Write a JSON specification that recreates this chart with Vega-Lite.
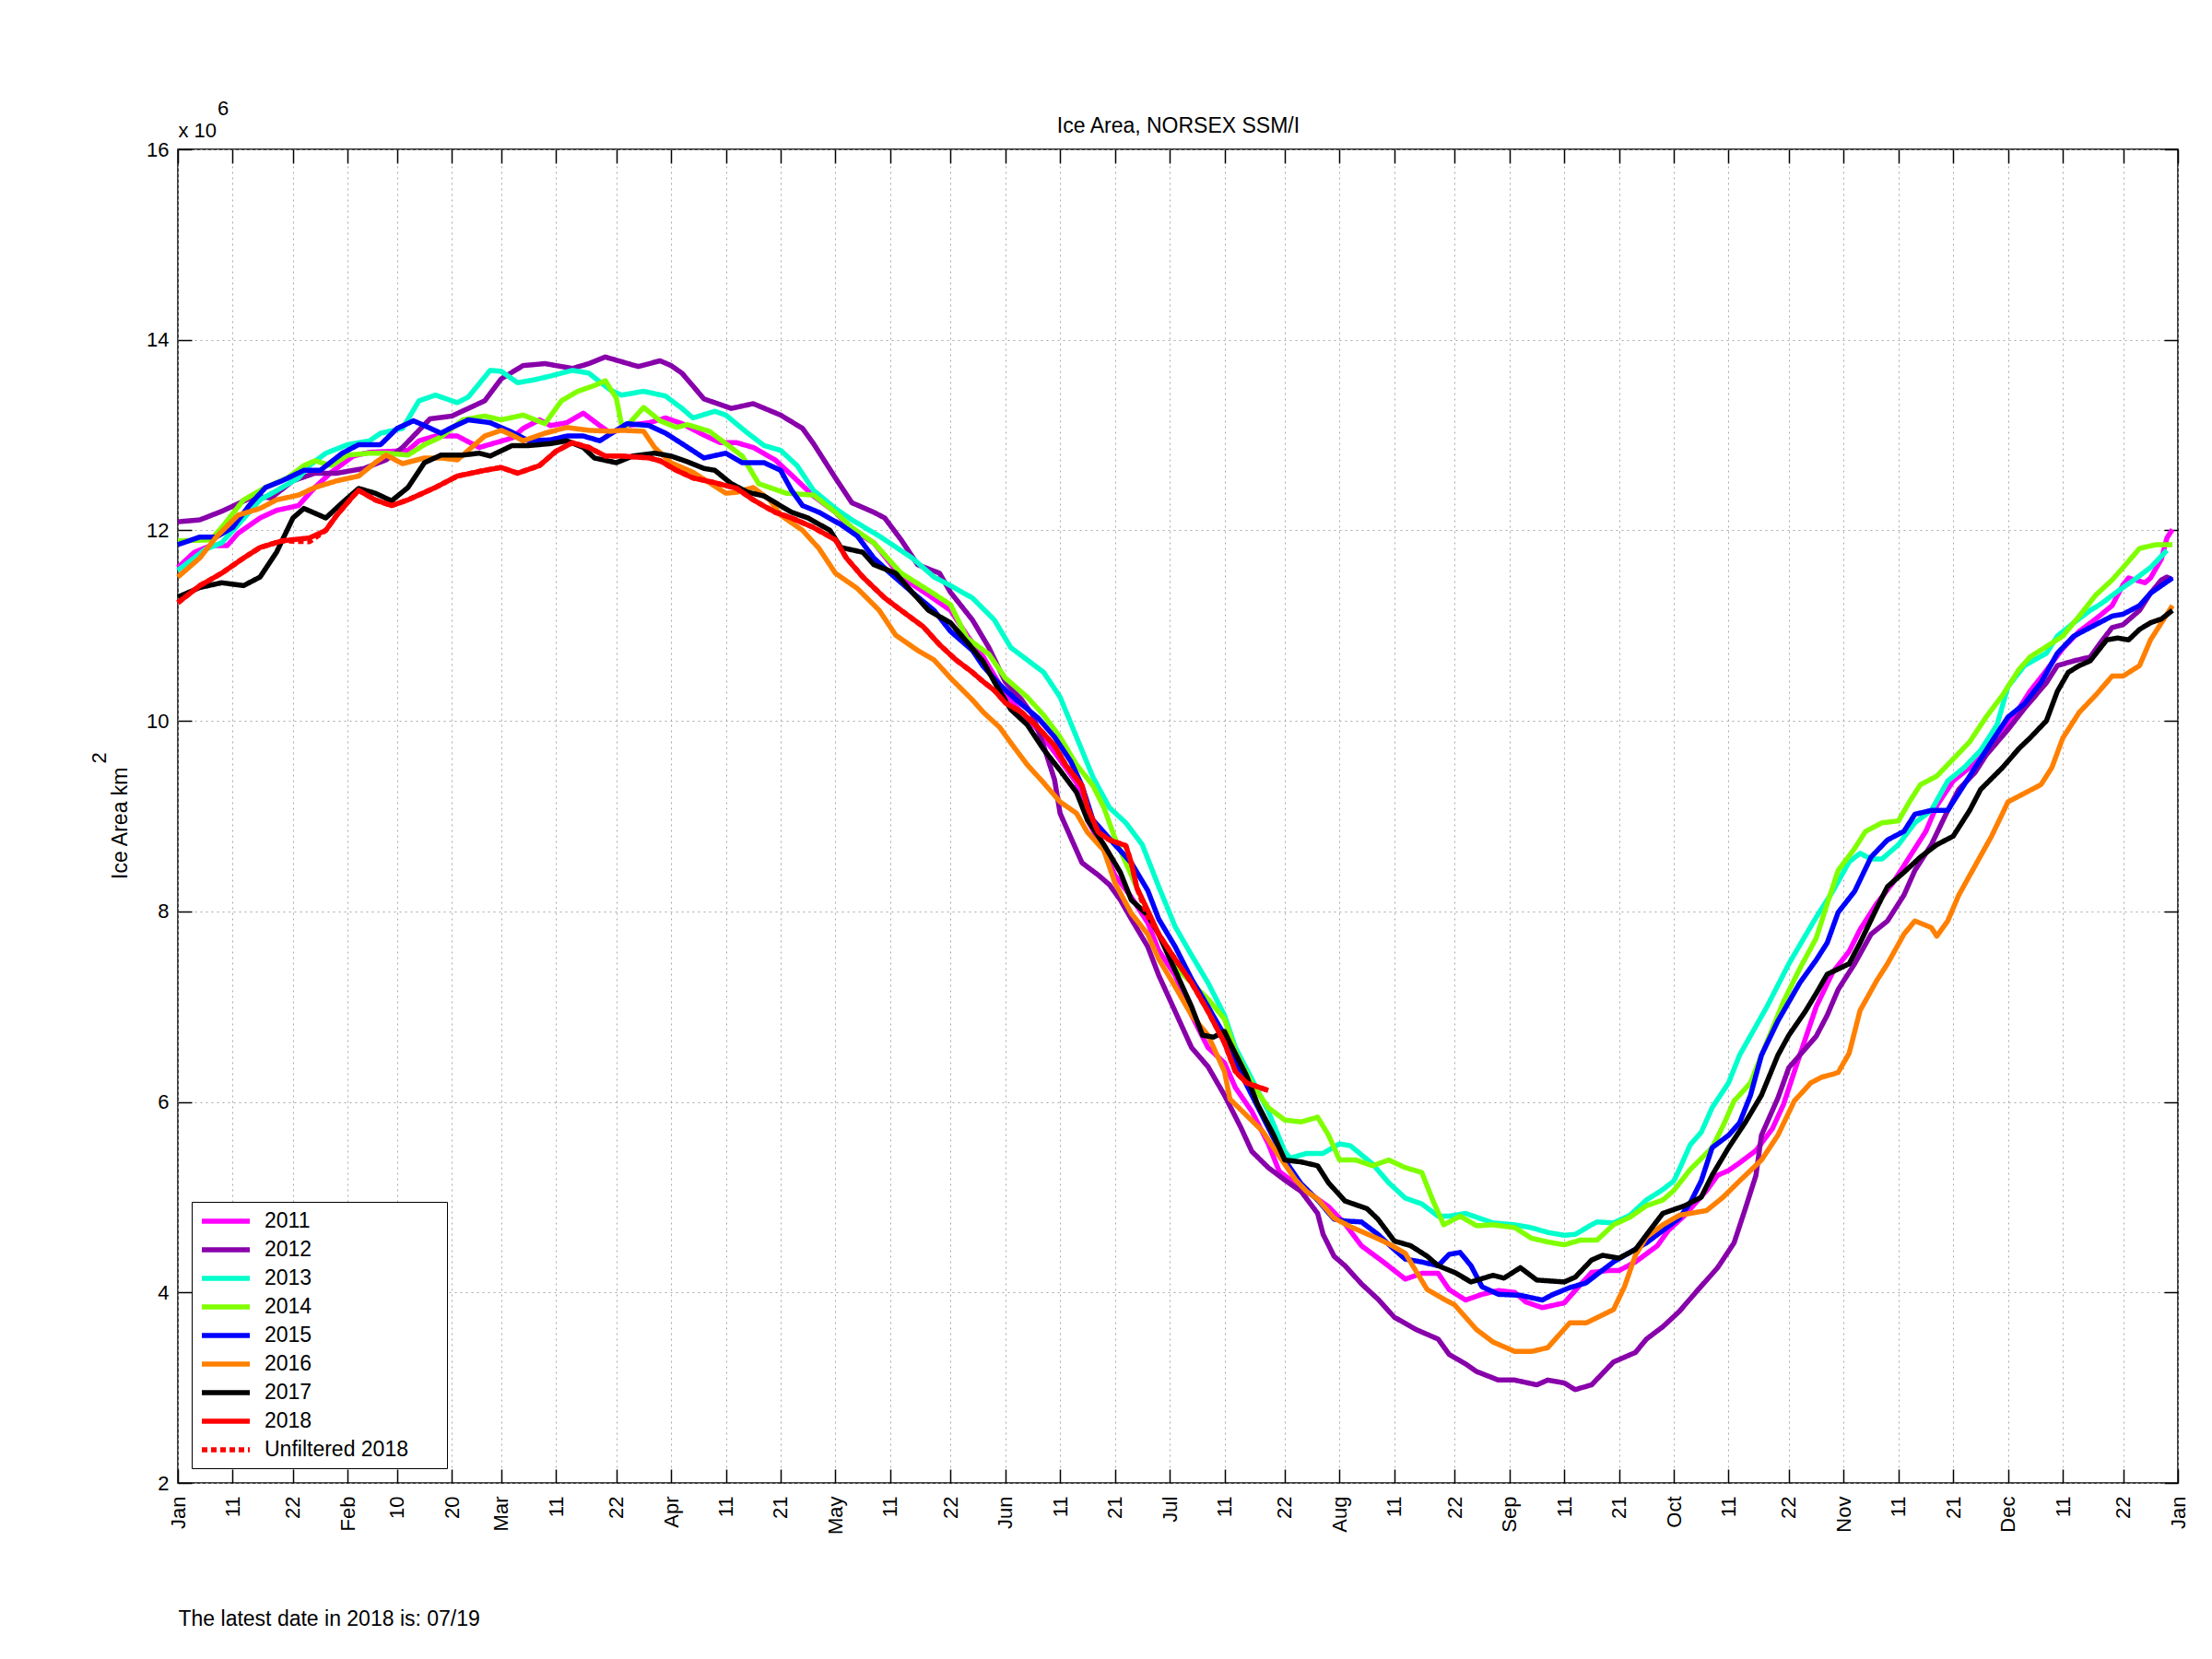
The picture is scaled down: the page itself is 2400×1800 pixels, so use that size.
{
  "$schema": "https://vega.github.io/schema/vega-lite/v6.json",
  "width": 2170,
  "height": 1447,
  "autosize": {"type": "none"},
  "padding": {"left": 193, "top": 162, "right": 37, "bottom": 191},
  "background": "white",
  "config": {
    "font": "Liberation Sans",
    "view": {"stroke": "black", "strokeWidth": 1.5},
    "axis": {
      "labelFont": "Liberation Sans", "labelFontSize": 22, "labelColor": "black",
      "titleFont": "Liberation Sans", "titleFontSize": 23, "titleFontWeight": "normal", "titleColor": "black",
      "tickColor": "black", "tickWidth": 1.5, "tickSize": -15, "domain": false,
      "gridColor": "#a8a8a8", "gridDash": [2, 4], "gridWidth": 1
    },
    "legend": {
      "orient": "none", "legendX": 15, "legendY": 1142,
      "labelFont": "Liberation Sans", "labelFontSize": 23, "labelColor": "black", "labelLimit": 400,
      "fillColor": "white", "strokeColor": "black", "padding": 8,
      "symbolType": "M-1,0H4.2", "symbolSize": 400, "labelOffset": 45, "rowPadding": 6
    }
  },
  "data": {"values": [
    {"s":"2011","d":0,"v":11.61},{"s":"2011","d":3,"v":11.77},{"s":"2011","d":6,"v":11.84},{"s":"2011","d":9,"v":11.84},{"s":"2011","d":11,"v":11.97},{"s":"2011","d":15,"v":12.13},{"s":"2011","d":18,"v":12.21},{"s":"2011","d":22,"v":12.26},{"s":"2011","d":25,"v":12.45},{"s":"2011","d":28,"v":12.61},{"s":"2011","d":32,"v":12.78},{"s":"2011","d":35,"v":12.82},{"s":"2011","d":39,"v":12.83},{"s":"2011","d":42,"v":12.84},{"s":"2011","d":44,"v":12.94},{"s":"2011","d":47,"v":12.99},{"s":"2011","d":51,"v":12.99},{"s":"2011","d":55,"v":12.87},{"s":"2011","d":58,"v":12.92},{"s":"2011","d":61,"v":12.97},{"s":"2011","d":63,"v":13.07},{"s":"2011","d":66,"v":13.16},{"s":"2011","d":68,"v":13.1},{"s":"2011","d":71,"v":13.13},{"s":"2011","d":74,"v":13.23},{"s":"2011","d":77,"v":13.1},{"s":"2011","d":79,"v":13.02},{"s":"2011","d":82,"v":13.1},{"s":"2011","d":86,"v":13.13},{"s":"2011","d":89,"v":13.18},{"s":"2011","d":92,"v":13.12},{"s":"2011","d":96,"v":13.0},{"s":"2011","d":99,"v":12.92},{"s":"2011","d":102,"v":12.92},{"s":"2011","d":105,"v":12.87},{"s":"2011","d":109,"v":12.74},{"s":"2011","d":112,"v":12.58},{"s":"2011","d":116,"v":12.36},{"s":"2011","d":120,"v":12.19},{"s":"2011","d":123,"v":12.0},{"s":"2011","d":127,"v":11.87},{"s":"2011","d":132,"v":11.51},{"s":"2011","d":137,"v":11.32},{"s":"2011","d":141,"v":11.16},{"s":"2011","d":144,"v":10.9},{"s":"2011","d":147,"v":10.67},{"s":"2011","d":150,"v":10.38},{"s":"2011","d":153,"v":10.15},{"s":"2011","d":157,"v":9.9},{"s":"2011","d":160,"v":9.67},{"s":"2011","d":164,"v":9.35},{"s":"2011","d":166,"v":8.96},{"s":"2011","d":169,"v":8.64},{"s":"2011","d":171,"v":8.38},{"s":"2011","d":174,"v":8.15},{"s":"2011","d":177,"v":7.88},{"s":"2011","d":179,"v":7.59},{"s":"2011","d":182,"v":7.33},{"s":"2011","d":185,"v":6.91},{"s":"2011","d":188,"v":6.57},{"s":"2011","d":191,"v":6.41},{"s":"2011","d":193,"v":6.15},{"s":"2011","d":196,"v":5.9},{"s":"2011","d":199,"v":5.56},{"s":"2011","d":201,"v":5.27},{"s":"2011","d":204,"v":5.14},{"s":"2011","d":206,"v":5.06},{"s":"2011","d":210,"v":4.9},{"s":"2011","d":213,"v":4.72},{"s":"2011","d":216,"v":4.49},{"s":"2011","d":220,"v":4.32},{"s":"2011","d":224,"v":4.14},{"s":"2011","d":227,"v":4.2},{"s":"2011","d":230,"v":4.2},{"s":"2011","d":232,"v":4.03},{"s":"2011","d":235,"v":3.92},{"s":"2011","d":238,"v":3.98},{"s":"2011","d":241,"v":4.02},{"s":"2011","d":244,"v":4.0},{"s":"2011","d":246,"v":3.9},{"s":"2011","d":249,"v":3.84},{"s":"2011","d":253,"v":3.89},{"s":"2011","d":255,"v":4.02},{"s":"2011","d":258,"v":4.21},{"s":"2011","d":261,"v":4.23},{"s":"2011","d":263,"v":4.23},{"s":"2011","d":266,"v":4.32},{"s":"2011","d":270,"v":4.49},{"s":"2011","d":272,"v":4.65},{"s":"2011","d":275,"v":4.81},{"s":"2011","d":279,"v":5.07},{"s":"2011","d":281,"v":5.23},{"s":"2011","d":283,"v":5.28},{"s":"2011","d":285,"v":5.36},{"s":"2011","d":288,"v":5.49},{"s":"2011","d":291,"v":5.72},{"s":"2011","d":293,"v":5.97},{"s":"2011","d":296,"v":6.49},{"s":"2011","d":299,"v":7.0},{"s":"2011","d":302,"v":7.36},{"s":"2011","d":305,"v":7.58},{"s":"2011","d":307,"v":7.81},{"s":"2011","d":310,"v":8.08},{"s":"2011","d":313,"v":8.3},{"s":"2011","d":316,"v":8.57},{"s":"2011","d":319,"v":8.84},{"s":"2011","d":321,"v":9.11},{"s":"2011","d":324,"v":9.37},{"s":"2011","d":327,"v":9.51},{"s":"2011","d":330,"v":9.69},{"s":"2011","d":333,"v":9.91},{"s":"2011","d":336,"v":10.13},{"s":"2011","d":338,"v":10.31},{"s":"2011","d":341,"v":10.53},{"s":"2011","d":344,"v":10.76},{"s":"2011","d":347,"v":10.94},{"s":"2011","d":350,"v":11.07},{"s":"2011","d":353,"v":11.21},{"s":"2011","d":355,"v":11.43},{"s":"2011","d":356,"v":11.5},{"s":"2011","d":359,"v":11.45},{"s":"2011","d":360,"v":11.5},{"s":"2011","d":362,"v":11.7},{"s":"2011","d":363,"v":11.92},{"s":"2011","d":364,"v":12.01},
    {"s":"2012","d":0,"v":12.09},{"s":"2012","d":4,"v":12.11},{"s":"2012","d":8,"v":12.2},{"s":"2012","d":14,"v":12.36},{"s":"2012","d":17,"v":12.34},{"s":"2012","d":21,"v":12.52},{"s":"2012","d":25,"v":12.6},{"s":"2012","d":29,"v":12.6},{"s":"2012","d":34,"v":12.65},{"s":"2012","d":38,"v":12.74},{"s":"2012","d":41,"v":12.87},{"s":"2012","d":46,"v":13.17},{"s":"2012","d":50,"v":13.2},{"s":"2012","d":56,"v":13.36},{"s":"2012","d":59,"v":13.59},{"s":"2012","d":63,"v":13.73},{"s":"2012","d":67,"v":13.75},{"s":"2012","d":72,"v":13.7},{"s":"2012","d":75,"v":13.75},{"s":"2012","d":78,"v":13.82},{"s":"2012","d":84,"v":13.72},{"s":"2012","d":88,"v":13.78},{"s":"2012","d":90,"v":13.73},{"s":"2012","d":92,"v":13.65},{"s":"2012","d":96,"v":13.38},{"s":"2012","d":101,"v":13.28},{"s":"2012","d":105,"v":13.33},{"s":"2012","d":110,"v":13.21},{"s":"2012","d":114,"v":13.07},{"s":"2012","d":116,"v":12.91},{"s":"2012","d":120,"v":12.55},{"s":"2012","d":123,"v":12.29},{"s":"2012","d":127,"v":12.19},{"s":"2012","d":129,"v":12.13},{"s":"2012","d":132,"v":11.9},{"s":"2012","d":135,"v":11.64},{"s":"2012","d":139,"v":11.55},{"s":"2012","d":141,"v":11.35},{"s":"2012","d":145,"v":11.06},{"s":"2012","d":148,"v":10.77},{"s":"2012","d":151,"v":10.41},{"s":"2012","d":154,"v":10.22},{"s":"2012","d":156,"v":10.06},{"s":"2012","d":158,"v":9.74},{"s":"2012","d":160,"v":9.38},{"s":"2012","d":161,"v":9.03},{"s":"2012","d":163,"v":8.77},{"s":"2012","d":165,"v":8.51},{"s":"2012","d":168,"v":8.38},{"s":"2012","d":170,"v":8.28},{"s":"2012","d":172,"v":8.12},{"s":"2012","d":174,"v":7.92},{"s":"2012","d":177,"v":7.63},{"s":"2012","d":179,"v":7.33},{"s":"2012","d":182,"v":6.95},{"s":"2012","d":185,"v":6.57},{"s":"2012","d":188,"v":6.37},{"s":"2012","d":191,"v":6.07},{"s":"2012","d":194,"v":5.73},{"s":"2012","d":196,"v":5.48},{"s":"2012","d":199,"v":5.31},{"s":"2012","d":202,"v":5.18},{"s":"2012","d":205,"v":5.06},{"s":"2012","d":208,"v":4.83},{"s":"2012","d":209,"v":4.61},{"s":"2012","d":211,"v":4.38},{"s":"2012","d":213,"v":4.28},{"s":"2012","d":216,"v":4.09},{"s":"2012","d":219,"v":3.93},{"s":"2012","d":222,"v":3.74},{"s":"2012","d":226,"v":3.61},{"s":"2012","d":230,"v":3.51},{"s":"2012","d":232,"v":3.35},{"s":"2012","d":235,"v":3.25},{"s":"2012","d":237,"v":3.17},{"s":"2012","d":241,"v":3.08},{"s":"2012","d":244,"v":3.08},{"s":"2012","d":248,"v":3.03},{"s":"2012","d":250,"v":3.08},{"s":"2012","d":253,"v":3.05},{"s":"2012","d":255,"v":2.98},{"s":"2012","d":258,"v":3.03},{"s":"2012","d":262,"v":3.27},{"s":"2012","d":266,"v":3.37},{"s":"2012","d":268,"v":3.51},{"s":"2012","d":271,"v":3.64},{"s":"2012","d":274,"v":3.8},{"s":"2012","d":277,"v":4.0},{"s":"2012","d":281,"v":4.26},{"s":"2012","d":284,"v":4.52},{"s":"2012","d":286,"v":4.87},{"s":"2012","d":288,"v":5.23},{"s":"2012","d":289,"v":5.65},{"s":"2012","d":292,"v":6.04},{"s":"2012","d":294,"v":6.36},{"s":"2012","d":299,"v":6.69},{"s":"2012","d":301,"v":6.91},{"s":"2012","d":303,"v":7.18},{"s":"2012","d":306,"v":7.45},{"s":"2012","d":309,"v":7.76},{"s":"2012","d":312,"v":7.9},{"s":"2012","d":315,"v":8.17},{"s":"2012","d":317,"v":8.43},{"s":"2012","d":320,"v":8.7},{"s":"2012","d":323,"v":9.06},{"s":"2012","d":325,"v":9.28},{"s":"2012","d":328,"v":9.46},{"s":"2012","d":330,"v":9.64},{"s":"2012","d":334,"v":9.91},{"s":"2012","d":337,"v":10.13},{"s":"2012","d":341,"v":10.4},{"s":"2012","d":343,"v":10.58},{"s":"2012","d":346,"v":10.63},{"s":"2012","d":349,"v":10.67},{"s":"2012","d":351,"v":10.83},{"s":"2012","d":353,"v":10.98},{"s":"2012","d":355,"v":11.01},{"s":"2012","d":358,"v":11.16},{"s":"2012","d":360,"v":11.34},{"s":"2012","d":362,"v":11.48},{"s":"2012","d":363,"v":11.51},{"s":"2012","d":364,"v":11.48},
    {"s":"2013","d":0,"v":11.58},{"s":"2013","d":5,"v":11.8},{"s":"2013","d":8,"v":11.87},{"s":"2013","d":11,"v":12.06},{"s":"2013","d":15,"v":12.32},{"s":"2013","d":19,"v":12.45},{"s":"2013","d":22,"v":12.55},{"s":"2013","d":24,"v":12.68},{"s":"2013","d":27,"v":12.81},{"s":"2013","d":31,"v":12.9},{"s":"2013","d":35,"v":12.94},{"s":"2013","d":37,"v":13.02},{"s":"2013","d":41,"v":13.07},{"s":"2013","d":44,"v":13.36},{"s":"2013","d":47,"v":13.42},{"s":"2013","d":51,"v":13.34},{"s":"2013","d":53,"v":13.4},{"s":"2013","d":57,"v":13.68},{"s":"2013","d":59,"v":13.67},{"s":"2013","d":62,"v":13.55},{"s":"2013","d":65,"v":13.58},{"s":"2013","d":68,"v":13.62},{"s":"2013","d":72,"v":13.68},{"s":"2013","d":75,"v":13.65},{"s":"2013","d":79,"v":13.47},{"s":"2013","d":81,"v":13.42},{"s":"2013","d":85,"v":13.46},{"s":"2013","d":89,"v":13.41},{"s":"2013","d":92,"v":13.28},{"s":"2013","d":94,"v":13.18},{"s":"2013","d":98,"v":13.25},{"s":"2013","d":100,"v":13.21},{"s":"2013","d":104,"v":13.02},{"s":"2013","d":107,"v":12.89},{"s":"2013","d":110,"v":12.84},{"s":"2013","d":113,"v":12.68},{"s":"2013","d":116,"v":12.42},{"s":"2013","d":120,"v":12.23},{"s":"2013","d":123,"v":12.11},{"s":"2013","d":128,"v":11.94},{"s":"2013","d":134,"v":11.71},{"s":"2013","d":138,"v":11.51},{"s":"2013","d":141,"v":11.42},{"s":"2013","d":145,"v":11.29},{"s":"2013","d":149,"v":11.06},{"s":"2013","d":152,"v":10.77},{"s":"2013","d":158,"v":10.51},{"s":"2013","d":161,"v":10.25},{"s":"2013","d":164,"v":9.83},{"s":"2013","d":167,"v":9.41},{"s":"2013","d":170,"v":9.09},{"s":"2013","d":173,"v":8.93},{"s":"2013","d":176,"v":8.7},{"s":"2013","d":179,"v":8.26},{"s":"2013","d":182,"v":7.84},{"s":"2013","d":185,"v":7.54},{"s":"2013","d":188,"v":7.25},{"s":"2013","d":191,"v":6.91},{"s":"2013","d":193,"v":6.57},{"s":"2013","d":196,"v":6.24},{"s":"2013","d":199,"v":5.9},{"s":"2013","d":202,"v":5.48},{"s":"2013","d":203,"v":5.41},{"s":"2013","d":206,"v":5.46},{"s":"2013","d":209,"v":5.46},{"s":"2013","d":212,"v":5.56},{"s":"2013","d":214,"v":5.54},{"s":"2013","d":218,"v":5.35},{"s":"2013","d":221,"v":5.15},{"s":"2013","d":224,"v":4.99},{"s":"2013","d":227,"v":4.93},{"s":"2013","d":230,"v":4.8},{"s":"2013","d":232,"v":4.8},{"s":"2013","d":235,"v":4.83},{"s":"2013","d":237,"v":4.79},{"s":"2013","d":240,"v":4.73},{"s":"2013","d":244,"v":4.71},{"s":"2013","d":247,"v":4.68},{"s":"2013","d":250,"v":4.63},{"s":"2013","d":253,"v":4.6},{"s":"2013","d":255,"v":4.61},{"s":"2013","d":258,"v":4.71},{"s":"2013","d":259,"v":4.74},{"s":"2013","d":262,"v":4.73},{"s":"2013","d":265,"v":4.81},{"s":"2013","d":268,"v":4.97},{"s":"2013","d":271,"v":5.08},{"s":"2013","d":273,"v":5.17},{"s":"2013","d":274,"v":5.29},{"s":"2013","d":276,"v":5.55},{"s":"2013","d":278,"v":5.68},{"s":"2013","d":280,"v":5.94},{"s":"2013","d":283,"v":6.2},{"s":"2013","d":285,"v":6.49},{"s":"2013","d":290,"v":7.0},{"s":"2013","d":294,"v":7.45},{"s":"2013","d":299,"v":7.94},{"s":"2013","d":302,"v":8.21},{"s":"2013","d":305,"v":8.52},{"s":"2013","d":307,"v":8.61},{"s":"2013","d":309,"v":8.55},{"s":"2013","d":311,"v":8.55},{"s":"2013","d":314,"v":8.7},{"s":"2013","d":317,"v":8.93},{"s":"2013","d":320,"v":9.06},{"s":"2013","d":323,"v":9.37},{"s":"2013","d":326,"v":9.51},{"s":"2013","d":329,"v":9.69},{"s":"2013","d":332,"v":9.96},{"s":"2013","d":334,"v":10.36},{"s":"2013","d":337,"v":10.58},{"s":"2013","d":341,"v":10.71},{"s":"2013","d":343,"v":10.89},{"s":"2013","d":346,"v":11.03},{"s":"2013","d":349,"v":11.16},{"s":"2013","d":351,"v":11.23},{"s":"2013","d":354,"v":11.36},{"s":"2013","d":357,"v":11.48},{"s":"2013","d":360,"v":11.61},{"s":"2013","d":363,"v":11.79},
    {"s":"2014","d":0,"v":11.89},{"s":"2014","d":6,"v":11.9},{"s":"2014","d":8,"v":12.03},{"s":"2014","d":12,"v":12.32},{"s":"2014","d":16,"v":12.45},{"s":"2014","d":20,"v":12.55},{"s":"2014","d":23,"v":12.68},{"s":"2014","d":25,"v":12.73},{"s":"2014","d":28,"v":12.68},{"s":"2014","d":31,"v":12.79},{"s":"2014","d":35,"v":12.81},{"s":"2014","d":38,"v":12.81},{"s":"2014","d":42,"v":12.79},{"s":"2014","d":45,"v":12.9},{"s":"2014","d":48,"v":12.98},{"s":"2014","d":52,"v":13.16},{"s":"2014","d":56,"v":13.2},{"s":"2014","d":59,"v":13.16},{"s":"2014","d":63,"v":13.21},{"s":"2014","d":67,"v":13.12},{"s":"2014","d":70,"v":13.36},{"s":"2014","d":73,"v":13.46},{"s":"2014","d":76,"v":13.52},{"s":"2014","d":78,"v":13.57},{"s":"2014","d":80,"v":13.39},{"s":"2014","d":81,"v":13.1},{"s":"2014","d":82,"v":13.1},{"s":"2014","d":85,"v":13.29},{"s":"2014","d":88,"v":13.15},{"s":"2014","d":91,"v":13.08},{"s":"2014","d":93,"v":13.11},{"s":"2014","d":97,"v":13.04},{"s":"2014","d":100,"v":12.91},{"s":"2014","d":103,"v":12.78},{"s":"2014","d":106,"v":12.49},{"s":"2014","d":111,"v":12.39},{"s":"2014","d":116,"v":12.37},{"s":"2014","d":120,"v":12.19},{"s":"2014","d":123,"v":12.03},{"s":"2014","d":127,"v":11.87},{"s":"2014","d":132,"v":11.55},{"s":"2014","d":137,"v":11.37},{"s":"2014","d":141,"v":11.22},{"s":"2014","d":144,"v":10.87},{"s":"2014","d":148,"v":10.7},{"s":"2014","d":151,"v":10.45},{"s":"2014","d":155,"v":10.25},{"s":"2014","d":158,"v":10.06},{"s":"2014","d":161,"v":9.83},{"s":"2014","d":164,"v":9.54},{"s":"2014","d":167,"v":9.32},{"s":"2014","d":169,"v":9.09},{"s":"2014","d":171,"v":8.77},{"s":"2014","d":173,"v":8.51},{"s":"2014","d":176,"v":8.12},{"s":"2014","d":179,"v":7.76},{"s":"2014","d":182,"v":7.42},{"s":"2014","d":185,"v":7.25},{"s":"2014","d":188,"v":7.08},{"s":"2014","d":191,"v":6.87},{"s":"2014","d":193,"v":6.53},{"s":"2014","d":196,"v":6.19},{"s":"2014","d":199,"v":5.94},{"s":"2014","d":202,"v":5.81},{"s":"2014","d":205,"v":5.79},{"s":"2014","d":208,"v":5.84},{"s":"2014","d":210,"v":5.65},{"s":"2014","d":212,"v":5.39},{"s":"2014","d":215,"v":5.39},{"s":"2014","d":218,"v":5.33},{"s":"2014","d":221,"v":5.39},{"s":"2014","d":224,"v":5.31},{"s":"2014","d":227,"v":5.26},{"s":"2014","d":229,"v":4.97},{"s":"2014","d":231,"v":4.71},{"s":"2014","d":234,"v":4.8},{"s":"2014","d":237,"v":4.7},{"s":"2014","d":240,"v":4.71},{"s":"2014","d":244,"v":4.68},{"s":"2014","d":247,"v":4.57},{"s":"2014","d":250,"v":4.53},{"s":"2014","d":253,"v":4.5},{"s":"2014","d":256,"v":4.55},{"s":"2014","d":259,"v":4.55},{"s":"2014","d":262,"v":4.71},{"s":"2014","d":265,"v":4.79},{"s":"2014","d":268,"v":4.91},{"s":"2014","d":271,"v":4.97},{"s":"2014","d":273,"v":5.07},{"s":"2014","d":276,"v":5.29},{"s":"2014","d":280,"v":5.52},{"s":"2014","d":282,"v":5.75},{"s":"2014","d":284,"v":6.01},{"s":"2014","d":287,"v":6.2},{"s":"2014","d":289,"v":6.49},{"s":"2014","d":293,"v":7.05},{"s":"2014","d":296,"v":7.4},{"s":"2014","d":299,"v":7.72},{"s":"2014","d":301,"v":8.08},{"s":"2014","d":303,"v":8.43},{"s":"2014","d":306,"v":8.66},{"s":"2014","d":308,"v":8.84},{"s":"2014","d":311,"v":8.93},{"s":"2014","d":314,"v":8.95},{"s":"2014","d":316,"v":9.15},{"s":"2014","d":318,"v":9.33},{"s":"2014","d":321,"v":9.42},{"s":"2014","d":324,"v":9.6},{"s":"2014","d":327,"v":9.78},{"s":"2014","d":330,"v":10.04},{"s":"2014","d":333,"v":10.27},{"s":"2014","d":336,"v":10.54},{"s":"2014","d":338,"v":10.67},{"s":"2014","d":341,"v":10.78},{"s":"2014","d":344,"v":10.89},{"s":"2014","d":347,"v":11.1},{"s":"2014","d":350,"v":11.32},{"s":"2014","d":353,"v":11.48},{"s":"2014","d":355,"v":11.61},{"s":"2014","d":358,"v":11.81},{"s":"2014","d":361,"v":11.85},{"s":"2014","d":364,"v":11.85},
    {"s":"2015","d":0,"v":11.85},{"s":"2015","d":4,"v":11.93},{"s":"2015","d":7,"v":11.93},{"s":"2015","d":10,"v":12.03},{"s":"2015","d":13,"v":12.26},{"s":"2015","d":16,"v":12.45},{"s":"2015","d":19,"v":12.52},{"s":"2015","d":23,"v":12.63},{"s":"2015","d":26,"v":12.63},{"s":"2015","d":30,"v":12.81},{"s":"2015","d":33,"v":12.9},{"s":"2015","d":37,"v":12.9},{"s":"2015","d":40,"v":13.07},{"s":"2015","d":43,"v":13.15},{"s":"2015","d":45,"v":13.1},{"s":"2015","d":48,"v":13.02},{"s":"2015","d":50,"v":13.08},{"s":"2015","d":53,"v":13.16},{"s":"2015","d":57,"v":13.13},{"s":"2015","d":61,"v":13.03},{"s":"2015","d":64,"v":12.94},{"s":"2015","d":68,"v":12.95},{"s":"2015","d":71,"v":12.99},{"s":"2015","d":74,"v":12.99},{"s":"2015","d":77,"v":12.94},{"s":"2015","d":80,"v":13.05},{"s":"2015","d":82,"v":13.12},{"s":"2015","d":86,"v":13.1},{"s":"2015","d":89,"v":13.02},{"s":"2015","d":92,"v":12.91},{"s":"2015","d":96,"v":12.76},{"s":"2015","d":100,"v":12.81},{"s":"2015","d":103,"v":12.71},{"s":"2015","d":107,"v":12.71},{"s":"2015","d":110,"v":12.63},{"s":"2015","d":112,"v":12.42},{"s":"2015","d":114,"v":12.26},{"s":"2015","d":117,"v":12.19},{"s":"2015","d":121,"v":12.06},{"s":"2015","d":124,"v":11.94},{"s":"2015","d":127,"v":11.71},{"s":"2015","d":130,"v":11.55},{"s":"2015","d":134,"v":11.35},{"s":"2015","d":138,"v":11.16},{"s":"2015","d":141,"v":10.94},{"s":"2015","d":145,"v":10.74},{"s":"2015","d":147,"v":10.57},{"s":"2015","d":150,"v":10.38},{"s":"2015","d":153,"v":10.22},{"s":"2015","d":157,"v":10.03},{"s":"2015","d":160,"v":9.83},{"s":"2015","d":163,"v":9.57},{"s":"2015","d":165,"v":9.32},{"s":"2015","d":167,"v":8.96},{"s":"2015","d":171,"v":8.7},{"s":"2015","d":174,"v":8.51},{"s":"2015","d":177,"v":8.22},{"s":"2015","d":179,"v":7.92},{"s":"2015","d":182,"v":7.63},{"s":"2015","d":185,"v":7.29},{"s":"2015","d":188,"v":7.0},{"s":"2015","d":191,"v":6.7},{"s":"2015","d":193,"v":6.41},{"s":"2015","d":196,"v":6.07},{"s":"2015","d":199,"v":5.73},{"s":"2015","d":202,"v":5.39},{"s":"2015","d":205,"v":5.14},{"s":"2015","d":208,"v":4.97},{"s":"2015","d":211,"v":4.77},{"s":"2015","d":213,"v":4.75},{"s":"2015","d":216,"v":4.74},{"s":"2015","d":219,"v":4.61},{"s":"2015","d":222,"v":4.45},{"s":"2015","d":224,"v":4.35},{"s":"2015","d":227,"v":4.32},{"s":"2015","d":230,"v":4.28},{"s":"2015","d":232,"v":4.4},{"s":"2015","d":234,"v":4.42},{"s":"2015","d":236,"v":4.28},{"s":"2015","d":238,"v":4.06},{"s":"2015","d":241,"v":3.98},{"s":"2015","d":245,"v":3.97},{"s":"2015","d":249,"v":3.92},{"s":"2015","d":251,"v":3.98},{"s":"2015","d":254,"v":4.05},{"s":"2015","d":257,"v":4.1},{"s":"2015","d":259,"v":4.19},{"s":"2015","d":262,"v":4.32},{"s":"2015","d":265,"v":4.42},{"s":"2015","d":268,"v":4.52},{"s":"2015","d":271,"v":4.65},{"s":"2015","d":274,"v":4.78},{"s":"2015","d":276,"v":4.94},{"s":"2015","d":278,"v":5.17},{"s":"2015","d":280,"v":5.52},{"s":"2015","d":283,"v":5.65},{"s":"2015","d":285,"v":5.78},{"s":"2015","d":287,"v":6.07},{"s":"2015","d":289,"v":6.49},{"s":"2015","d":292,"v":6.85},{"s":"2015","d":296,"v":7.25},{"s":"2015","d":299,"v":7.49},{"s":"2015","d":301,"v":7.67},{"s":"2015","d":303,"v":7.99},{"s":"2015","d":306,"v":8.21},{"s":"2015","d":309,"v":8.57},{"s":"2015","d":312,"v":8.75},{"s":"2015","d":315,"v":8.84},{"s":"2015","d":317,"v":9.02},{"s":"2015","d":320,"v":9.06},{"s":"2015","d":323,"v":9.06},{"s":"2015","d":325,"v":9.24},{"s":"2015","d":328,"v":9.51},{"s":"2015","d":331,"v":9.78},{"s":"2015","d":334,"v":10.04},{"s":"2015","d":337,"v":10.18},{"s":"2015","d":340,"v":10.4},{"s":"2015","d":343,"v":10.71},{"s":"2015","d":346,"v":10.89},{"s":"2015","d":349,"v":10.98},{"s":"2015","d":353,"v":11.1},{"s":"2015","d":355,"v":11.12},{"s":"2015","d":358,"v":11.21},{"s":"2015","d":360,"v":11.34},{"s":"2015","d":364,"v":11.5},
    {"s":"2016","d":0,"v":11.51},{"s":"2016","d":4,"v":11.71},{"s":"2016","d":7,"v":11.93},{"s":"2016","d":11,"v":12.16},{"s":"2016","d":15,"v":12.23},{"s":"2016","d":18,"v":12.32},{"s":"2016","d":22,"v":12.37},{"s":"2016","d":25,"v":12.45},{"s":"2016","d":29,"v":12.52},{"s":"2016","d":33,"v":12.57},{"s":"2016","d":36,"v":12.71},{"s":"2016","d":38,"v":12.79},{"s":"2016","d":41,"v":12.7},{"s":"2016","d":45,"v":12.76},{"s":"2016","d":48,"v":12.76},{"s":"2016","d":51,"v":12.74},{"s":"2016","d":54,"v":12.89},{"s":"2016","d":56,"v":12.99},{"s":"2016","d":59,"v":13.05},{"s":"2016","d":61,"v":13.0},{"s":"2016","d":63,"v":12.94},{"s":"2016","d":67,"v":13.02},{"s":"2016","d":71,"v":13.08},{"s":"2016","d":75,"v":13.05},{"s":"2016","d":79,"v":13.04},{"s":"2016","d":81,"v":13.05},{"s":"2016","d":85,"v":13.04},{"s":"2016","d":87,"v":12.87},{"s":"2016","d":90,"v":12.71},{"s":"2016","d":94,"v":12.61},{"s":"2016","d":97,"v":12.5},{"s":"2016","d":100,"v":12.39},{"s":"2016","d":102,"v":12.4},{"s":"2016","d":105,"v":12.45},{"s":"2016","d":108,"v":12.32},{"s":"2016","d":110,"v":12.16},{"s":"2016","d":114,"v":12.0},{"s":"2016","d":117,"v":11.81},{"s":"2016","d":120,"v":11.55},{"s":"2016","d":124,"v":11.39},{"s":"2016","d":128,"v":11.16},{"s":"2016","d":131,"v":10.9},{"s":"2016","d":135,"v":10.74},{"s":"2016","d":138,"v":10.64},{"s":"2016","d":141,"v":10.45},{"s":"2016","d":145,"v":10.22},{"s":"2016","d":147,"v":10.09},{"s":"2016","d":150,"v":9.93},{"s":"2016","d":152,"v":9.77},{"s":"2016","d":155,"v":9.54},{"s":"2016","d":158,"v":9.35},{"s":"2016","d":161,"v":9.15},{"s":"2016","d":164,"v":9.03},{"s":"2016","d":166,"v":8.83},{"s":"2016","d":169,"v":8.64},{"s":"2016","d":171,"v":8.3},{"s":"2016","d":174,"v":7.98},{"s":"2016","d":177,"v":7.76},{"s":"2016","d":179,"v":7.5},{"s":"2016","d":182,"v":7.21},{"s":"2016","d":185,"v":6.91},{"s":"2016","d":188,"v":6.7},{"s":"2016","d":191,"v":6.32},{"s":"2016","d":192,"v":6.03},{"s":"2016","d":195,"v":5.86},{"s":"2016","d":198,"v":5.69},{"s":"2016","d":201,"v":5.43},{"s":"2016","d":204,"v":5.18},{"s":"2016","d":206,"v":5.06},{"s":"2016","d":208,"v":4.98},{"s":"2016","d":211,"v":4.78},{"s":"2016","d":214,"v":4.69},{"s":"2016","d":218,"v":4.59},{"s":"2016","d":221,"v":4.51},{"s":"2016","d":224,"v":4.41},{"s":"2016","d":226,"v":4.22},{"s":"2016","d":228,"v":4.03},{"s":"2016","d":231,"v":3.93},{"s":"2016","d":233,"v":3.87},{"s":"2016","d":237,"v":3.61},{"s":"2016","d":240,"v":3.48},{"s":"2016","d":244,"v":3.38},{"s":"2016","d":247,"v":3.38},{"s":"2016","d":250,"v":3.42},{"s":"2016","d":252,"v":3.55},{"s":"2016","d":254,"v":3.68},{"s":"2016","d":257,"v":3.68},{"s":"2016","d":262,"v":3.82},{"s":"2016","d":264,"v":4.06},{"s":"2016","d":266,"v":4.39},{"s":"2016","d":268,"v":4.58},{"s":"2016","d":271,"v":4.71},{"s":"2016","d":274,"v":4.81},{"s":"2016","d":279,"v":4.86},{"s":"2016","d":282,"v":5.0},{"s":"2016","d":285,"v":5.17},{"s":"2016","d":289,"v":5.39},{"s":"2016","d":292,"v":5.65},{"s":"2016","d":295,"v":6.01},{"s":"2016","d":298,"v":6.2},{"s":"2016","d":300,"v":6.26},{"s":"2016","d":302,"v":6.29},{"s":"2016","d":303,"v":6.31},{"s":"2016","d":305,"v":6.51},{"s":"2016","d":307,"v":6.96},{"s":"2016","d":310,"v":7.27},{"s":"2016","d":312,"v":7.45},{"s":"2016","d":315,"v":7.76},{"s":"2016","d":317,"v":7.9},{"s":"2016","d":320,"v":7.83},{"s":"2016","d":321,"v":7.74},{"s":"2016","d":323,"v":7.9},{"s":"2016","d":325,"v":8.17},{"s":"2016","d":328,"v":8.48},{"s":"2016","d":331,"v":8.79},{"s":"2016","d":334,"v":9.15},{"s":"2016","d":337,"v":9.24},{"s":"2016","d":340,"v":9.33},{"s":"2016","d":342,"v":9.51},{"s":"2016","d":344,"v":9.82},{"s":"2016","d":347,"v":10.09},{"s":"2016","d":350,"v":10.27},{"s":"2016","d":353,"v":10.47},{"s":"2016","d":355,"v":10.47},{"s":"2016","d":358,"v":10.58},{"s":"2016","d":360,"v":10.85},{"s":"2016","d":363,"v":11.12},{"s":"2016","d":364,"v":11.21},
    {"s":"2017","d":0,"v":11.3},{"s":"2017","d":4,"v":11.4},{"s":"2017","d":8,"v":11.45},{"s":"2017","d":12,"v":11.42},{"s":"2017","d":15,"v":11.51},{"s":"2017","d":18,"v":11.77},{"s":"2017","d":21,"v":12.13},{"s":"2017","d":23,"v":12.23},{"s":"2017","d":27,"v":12.13},{"s":"2017","d":30,"v":12.29},{"s":"2017","d":33,"v":12.44},{"s":"2017","d":36,"v":12.39},{"s":"2017","d":39,"v":12.31},{"s":"2017","d":42,"v":12.45},{"s":"2017","d":45,"v":12.71},{"s":"2017","d":48,"v":12.79},{"s":"2017","d":52,"v":12.79},{"s":"2017","d":55,"v":12.81},{"s":"2017","d":57,"v":12.78},{"s":"2017","d":61,"v":12.89},{"s":"2017","d":64,"v":12.89},{"s":"2017","d":68,"v":12.91},{"s":"2017","d":71,"v":12.94},{"s":"2017","d":74,"v":12.87},{"s":"2017","d":76,"v":12.76},{"s":"2017","d":80,"v":12.71},{"s":"2017","d":83,"v":12.78},{"s":"2017","d":87,"v":12.81},{"s":"2017","d":90,"v":12.78},{"s":"2017","d":93,"v":12.72},{"s":"2017","d":96,"v":12.65},{"s":"2017","d":98,"v":12.63},{"s":"2017","d":101,"v":12.49},{"s":"2017","d":104,"v":12.4},{"s":"2017","d":107,"v":12.36},{"s":"2017","d":112,"v":12.19},{"s":"2017","d":115,"v":12.13},{"s":"2017","d":119,"v":12.0},{"s":"2017","d":121,"v":11.82},{"s":"2017","d":125,"v":11.77},{"s":"2017","d":127,"v":11.64},{"s":"2017","d":131,"v":11.55},{"s":"2017","d":134,"v":11.35},{"s":"2017","d":137,"v":11.16},{"s":"2017","d":141,"v":11.03},{"s":"2017","d":144,"v":10.83},{"s":"2017","d":147,"v":10.62},{"s":"2017","d":149,"v":10.41},{"s":"2017","d":152,"v":10.12},{"s":"2017","d":155,"v":9.96},{"s":"2017","d":158,"v":9.7},{"s":"2017","d":161,"v":9.48},{"s":"2017","d":164,"v":9.25},{"s":"2017","d":166,"v":8.96},{"s":"2017","d":169,"v":8.7},{"s":"2017","d":172,"v":8.41},{"s":"2017","d":174,"v":8.12},{"s":"2017","d":177,"v":7.96},{"s":"2017","d":179,"v":7.76},{"s":"2017","d":182,"v":7.38},{"s":"2017","d":185,"v":7.0},{"s":"2017","d":187,"v":6.7},{"s":"2017","d":189,"v":6.68},{"s":"2017","d":191,"v":6.74},{"s":"2017","d":192,"v":6.62},{"s":"2017","d":195,"v":6.28},{"s":"2017","d":197,"v":5.98},{"s":"2017","d":200,"v":5.65},{"s":"2017","d":202,"v":5.39},{"s":"2017","d":205,"v":5.37},{"s":"2017","d":208,"v":5.33},{"s":"2017","d":210,"v":5.15},{"s":"2017","d":213,"v":4.96},{"s":"2017","d":217,"v":4.88},{"s":"2017","d":219,"v":4.77},{"s":"2017","d":222,"v":4.54},{"s":"2017","d":225,"v":4.49},{"s":"2017","d":228,"v":4.38},{"s":"2017","d":230,"v":4.28},{"s":"2017","d":233,"v":4.21},{"s":"2017","d":236,"v":4.11},{"s":"2017","d":240,"v":4.18},{"s":"2017","d":242,"v":4.15},{"s":"2017","d":245,"v":4.26},{"s":"2017","d":248,"v":4.13},{"s":"2017","d":253,"v":4.11},{"s":"2017","d":255,"v":4.16},{"s":"2017","d":258,"v":4.34},{"s":"2017","d":260,"v":4.39},{"s":"2017","d":263,"v":4.36},{"s":"2017","d":266,"v":4.45},{"s":"2017","d":269,"v":4.68},{"s":"2017","d":271,"v":4.83},{"s":"2017","d":275,"v":4.91},{"s":"2017","d":278,"v":5.0},{"s":"2017","d":280,"v":5.23},{"s":"2017","d":283,"v":5.52},{"s":"2017","d":286,"v":5.78},{"s":"2017","d":289,"v":6.07},{"s":"2017","d":292,"v":6.49},{"s":"2017","d":294,"v":6.7},{"s":"2017","d":297,"v":6.95},{"s":"2017","d":299,"v":7.14},{"s":"2017","d":301,"v":7.34},{"s":"2017","d":305,"v":7.45},{"s":"2017","d":307,"v":7.67},{"s":"2017","d":310,"v":8.03},{"s":"2017","d":312,"v":8.26},{"s":"2017","d":315,"v":8.41},{"s":"2017","d":318,"v":8.57},{"s":"2017","d":321,"v":8.7},{"s":"2017","d":324,"v":8.79},{"s":"2017","d":327,"v":9.06},{"s":"2017","d":329,"v":9.28},{"s":"2017","d":333,"v":9.51},{"s":"2017","d":336,"v":9.71},{"s":"2017","d":338,"v":9.82},{"s":"2017","d":341,"v":10.0},{"s":"2017","d":343,"v":10.31},{"s":"2017","d":345,"v":10.51},{"s":"2017","d":347,"v":10.58},{"s":"2017","d":349,"v":10.63},{"s":"2017","d":352,"v":10.85},{"s":"2017","d":354,"v":10.87},{"s":"2017","d":356,"v":10.85},{"s":"2017","d":358,"v":10.96},{"s":"2017","d":360,"v":11.03},{"s":"2017","d":362,"v":11.07},{"s":"2017","d":364,"v":11.16},
    {"s":"2018","d":0,"v":11.24},{"s":"2018","d":4,"v":11.42},{"s":"2018","d":8,"v":11.55},{"s":"2018","d":12,"v":11.71},{"s":"2018","d":15,"v":11.82},{"s":"2018","d":19,"v":11.89},{"s":"2018","d":24,"v":11.92},{"s":"2018","d":27,"v":12.0},{"s":"2018","d":29,"v":12.16},{"s":"2018","d":32,"v":12.36},{"s":"2018","d":33,"v":12.42},{"s":"2018","d":36,"v":12.32},{"s":"2018","d":39,"v":12.26},{"s":"2018","d":42,"v":12.32},{"s":"2018","d":47,"v":12.45},{"s":"2018","d":51,"v":12.57},{"s":"2018","d":56,"v":12.63},{"s":"2018","d":59,"v":12.66},{"s":"2018","d":62,"v":12.6},{"s":"2018","d":66,"v":12.68},{"s":"2018","d":69,"v":12.83},{"s":"2018","d":72,"v":12.92},{"s":"2018","d":75,"v":12.87},{"s":"2018","d":78,"v":12.78},{"s":"2018","d":81,"v":12.78},{"s":"2018","d":86,"v":12.76},{"s":"2018","d":88,"v":12.73},{"s":"2018","d":91,"v":12.63},{"s":"2018","d":94,"v":12.55},{"s":"2018","d":98,"v":12.5},{"s":"2018","d":102,"v":12.44},{"s":"2018","d":105,"v":12.32},{"s":"2018","d":109,"v":12.19},{"s":"2018","d":112,"v":12.13},{"s":"2018","d":116,"v":12.03},{"s":"2018","d":120,"v":11.9},{"s":"2018","d":122,"v":11.71},{"s":"2018","d":125,"v":11.51},{"s":"2018","d":129,"v":11.29},{"s":"2018","d":132,"v":11.16},{"s":"2018","d":136,"v":10.99},{"s":"2018","d":139,"v":10.8},{"s":"2018","d":142,"v":10.64},{"s":"2018","d":145,"v":10.51},{"s":"2018","d":147,"v":10.41},{"s":"2018","d":149,"v":10.32},{"s":"2018","d":151,"v":10.19},{"s":"2018","d":154,"v":10.09},{"s":"2018","d":157,"v":9.93},{"s":"2018","d":160,"v":9.74},{"s":"2018","d":162,"v":9.54},{"s":"2018","d":165,"v":9.32},{"s":"2018","d":166,"v":9.09},{"s":"2018","d":168,"v":8.83},{"s":"2018","d":170,"v":8.75},{"s":"2018","d":173,"v":8.69},{"s":"2018","d":174,"v":8.51},{"s":"2018","d":175,"v":8.25},{"s":"2018","d":177,"v":8.01},{"s":"2018","d":179,"v":7.76},{"s":"2018","d":182,"v":7.5},{"s":"2018","d":185,"v":7.25},{"s":"2018","d":188,"v":6.95},{"s":"2018","d":191,"v":6.62},{"s":"2018","d":193,"v":6.32},{"s":"2018","d":195,"v":6.2},{"s":"2018","d":199,"v":6.12},
    {"s":"Unfiltered 2018","d":0,"v":11.24},{"s":"Unfiltered 2018","d":4,"v":11.42},{"s":"Unfiltered 2018","d":8,"v":11.55},{"s":"Unfiltered 2018","d":12,"v":11.71},{"s":"Unfiltered 2018","d":15,"v":11.82},{"s":"Unfiltered 2018","d":19,"v":11.89},{"s":"Unfiltered 2018","d":24,"v":11.88},{"s":"Unfiltered 2018","d":27,"v":12.0},{"s":"Unfiltered 2018","d":29,"v":12.16},{"s":"Unfiltered 2018","d":32,"v":12.36},{"s":"Unfiltered 2018","d":33,"v":12.42},{"s":"Unfiltered 2018","d":36,"v":12.32},{"s":"Unfiltered 2018","d":39,"v":12.26},{"s":"Unfiltered 2018","d":42,"v":12.32},{"s":"Unfiltered 2018","d":47,"v":12.45},{"s":"Unfiltered 2018","d":51,"v":12.57},{"s":"Unfiltered 2018","d":56,"v":12.63},{"s":"Unfiltered 2018","d":59,"v":12.66},{"s":"Unfiltered 2018","d":62,"v":12.6},{"s":"Unfiltered 2018","d":66,"v":12.68},{"s":"Unfiltered 2018","d":69,"v":12.83},{"s":"Unfiltered 2018","d":72,"v":12.92},{"s":"Unfiltered 2018","d":75,"v":12.87},{"s":"Unfiltered 2018","d":78,"v":12.78},{"s":"Unfiltered 2018","d":81,"v":12.78},{"s":"Unfiltered 2018","d":86,"v":12.76},{"s":"Unfiltered 2018","d":88,"v":12.73},{"s":"Unfiltered 2018","d":91,"v":12.63},{"s":"Unfiltered 2018","d":94,"v":12.55},{"s":"Unfiltered 2018","d":98,"v":12.5},{"s":"Unfiltered 2018","d":102,"v":12.44},{"s":"Unfiltered 2018","d":105,"v":12.32},{"s":"Unfiltered 2018","d":109,"v":12.19},{"s":"Unfiltered 2018","d":112,"v":12.13},{"s":"Unfiltered 2018","d":116,"v":12.03},{"s":"Unfiltered 2018","d":120,"v":11.9},{"s":"Unfiltered 2018","d":122,"v":11.71},{"s":"Unfiltered 2018","d":125,"v":11.51},{"s":"Unfiltered 2018","d":129,"v":11.29},{"s":"Unfiltered 2018","d":132,"v":11.16},{"s":"Unfiltered 2018","d":136,"v":10.99},{"s":"Unfiltered 2018","d":139,"v":10.8},{"s":"Unfiltered 2018","d":142,"v":10.64},{"s":"Unfiltered 2018","d":145,"v":10.51},{"s":"Unfiltered 2018","d":147,"v":10.41},{"s":"Unfiltered 2018","d":149,"v":10.32},{"s":"Unfiltered 2018","d":151,"v":10.19},{"s":"Unfiltered 2018","d":154,"v":10.09},{"s":"Unfiltered 2018","d":157,"v":9.93},{"s":"Unfiltered 2018","d":160,"v":9.74},{"s":"Unfiltered 2018","d":162,"v":9.54},{"s":"Unfiltered 2018","d":165,"v":9.32},{"s":"Unfiltered 2018","d":166,"v":9.09},{"s":"Unfiltered 2018","d":168,"v":8.83},{"s":"Unfiltered 2018","d":170,"v":8.75},{"s":"Unfiltered 2018","d":173,"v":8.69},{"s":"Unfiltered 2018","d":174,"v":8.51},{"s":"Unfiltered 2018","d":175,"v":8.25},{"s":"Unfiltered 2018","d":177,"v":7.95},{"s":"Unfiltered 2018","d":179,"v":7.76},{"s":"Unfiltered 2018","d":182,"v":7.5},{"s":"Unfiltered 2018","d":185,"v":7.25},{"s":"Unfiltered 2018","d":188,"v":6.95},{"s":"Unfiltered 2018","d":191,"v":6.62},{"s":"Unfiltered 2018","d":193,"v":6.32},{"s":"Unfiltered 2018","d":195,"v":6.2},{"s":"Unfiltered 2018","d":199,"v":6.12}
  ]},
  "layer": [
    {
      "mark": {"type": "line", "strokeJoin": "round"},
      "encoding": {
        "x": {
          "field": "d", "type": "quantitative",
          "scale": {"domain": [0, 365], "nice": false, "zero": false},
          "axis": {
            "orient": "bottom", "grid": true,
            "values": [0,10,21,31,40,50,59,69,80,90,100,110,120,130,141,151,161,171,181,191,202,212,222,233,243,253,263,273,283,294,304,314,324,334,344,355,365],
            "labelExpr": "['Jan','11','22','Feb','10','20','Mar','11','22','Apr','11','21','May','11','22','Jun','11','21','Jul','11','22','Aug','11','22','Sep','11','21','Oct','11','22','Nov','11','21','Dec','11','22','Jan'][indexof([0,10,21,31,40,50,59,69,80,90,100,110,120,130,141,151,161,171,181,191,202,212,222,233,243,253,263,273,283,294,304,314,324,334,344,355,365], datum.value)]",
            "labelAngle": -90, "labelPadding": 29, "labelFlush": false, "labelOverlap": false,
            "title": "The latest date in 2018 is: 07/19",
            "titleX": 0, "titleY": 154, "titleAlign": "left", "titleBaseline": "alphabetic"
          }
        },
        "y": {
          "field": "v", "type": "quantitative",
          "scale": {"domain": [2, 16], "nice": false, "zero": false},
          "axis": {
            "orient": "left", "grid": true,
            "values": [2,4,6,8,10,12,14,16],
            "labelPadding": 25, "labelFlush": false,
            "title": "Ice Area km",
            "titleAngle": -90, "titleAlign": "right", "titleBaseline": "alphabetic",
            "titleX": -56, "titleY": 670
          }
        },
        "color": {
          "field": "s", "type": "nominal",
          "scale": {
            "domain": ["2011","2012","2013","2014","2015","2016","2017","2018","Unfiltered 2018"],
            "range": ["#ff00ff","#8800aa","#00ffcc","#80ff00","#0000ff","#ff8000","#000000","#ff0000","#ff0000"]
          },
          "legend": {
            "title": null,
            "labelExpr": "datum.label == 'Unfiltered 2018' ? 'Unfiltered 2018\u2800\u2800' : datum.label",
            "encode": {"symbols": {"update": {
              "strokeWidth": {"signal": "datum.value == 'Unfiltered 2018' ? 1.5 : 5.5"},
              "strokeDash": {"signal": "datum.value == 'Unfiltered 2018' ? [6, 3] : [1, 0]"}
            }}}
          }
        },
        "strokeDash": {
          "field": "s", "type": "nominal",
          "scale": {
            "domain": ["2011","2012","2013","2014","2015","2016","2017","2018","Unfiltered 2018"],
            "range": [[1,0],[1,0],[1,0],[1,0],[1,0],[1,0],[1,0],[1,0],[6,4]]
          },
          "legend": null
        },
        "strokeWidth": {
          "field": "s", "type": "nominal",
          "scale": {
            "domain": ["2011","2012","2013","2014","2015","2016","2017","2018","Unfiltered 2018"],
            "range": [5.5,5.5,5.5,5.5,5.5,5.5,5.5,5.5,1.5]
          },
          "legend": null
        }
      }
    },
    {
      "mark": {"type": "line", "opacity": 0},
      "encoding": {
        "x": {
          "field": "d", "type": "quantitative",
          "scale": {"domain": [0, 365], "nice": false, "zero": false},
          "axis": {
            "orient": "top", "grid": false, "labels": false,
            "values": [0,10,21,31,40,50,59,69,80,90,100,110,120,130,141,151,161,171,181,191,202,212,222,233,243,253,263,273,283,294,304,314,324,334,344,355,365],
            "title": "Ice Area, NORSEX SSM/I",
            "titleX": 1085, "titleY": -19, "titleAlign": "center", "titleBaseline": "alphabetic"
          }
        },
        "y": {
          "field": "v", "type": "quantitative",
          "scale": {"domain": [2, 16], "nice": false, "zero": false},
          "axis": {
            "orient": "right", "grid": false, "labels": false,
            "values": [2,4,6,8,10,12,14,16],
            "title": "x 10", "titleFontSize": 22,
            "titleAngle": 0, "titleAlign": "left", "titleBaseline": "alphabetic",
            "titleX": -2170, "titleY": -14
          }
        },
        "detail": {"field": "s"}
      }
    },
    {
      "data": {"values": [{}]},
      "mark": {"type": "text", "text": "6", "font": "Liberation Sans", "fontSize": 22, "align": "left", "baseline": "alphabetic", "color": "black"},
      "encoding": {
        "x": {"datum": 7.23, "type": "quantitative", "scale": {"domain": [0, 365], "nice": false, "zero": false}, "axis": null},
        "y": {"datum": 16.358, "type": "quantitative", "scale": {"domain": [2, 16], "nice": false, "zero": false}, "axis": null}
      }
    },
    {
      "data": {"values": [{}]},
      "mark": {"type": "text", "text": "2", "font": "Liberation Sans", "fontSize": 22, "angle": 270, "align": "center", "baseline": "alphabetic", "color": "black"},
      "encoding": {
        "x": {"datum": -13.12, "type": "quantitative", "scale": {"domain": [0, 365], "nice": false, "zero": false}, "axis": null},
        "y": {"datum": 9.61, "type": "quantitative", "scale": {"domain": [2, 16], "nice": false, "zero": false}, "axis": null}
      }
    }
  ],
  "resolve": {"axis": {"x": "independent", "y": "independent"}}
}
